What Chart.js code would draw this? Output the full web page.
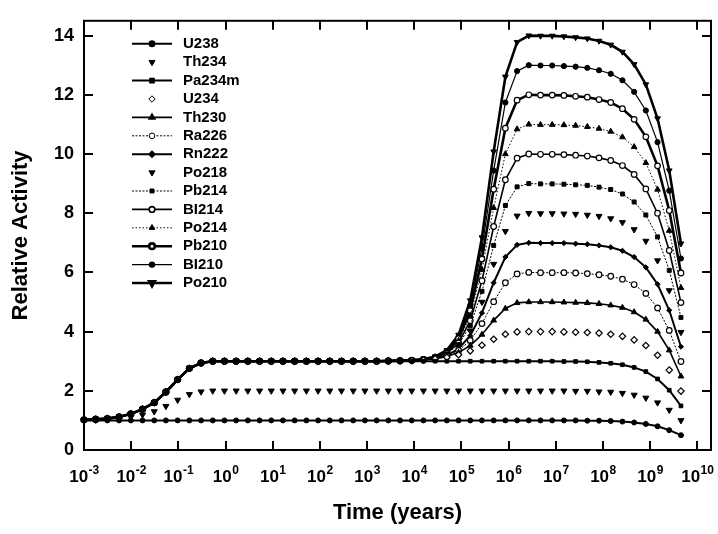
<html>

<head>
  <title>Relative Activity - U238 decay chain</title>
  <style>
    body { margin: 0; background: #fff; }
  </style>
  <script src="https://cdn.jsdelivr.net/npm/chart.js"></script>
</head>

<body>
  <canvas id="chart" width="718" height="534"></canvas>

  <script>
    // time grid (years), log spaced from 1e-3 to 4.5e9
    const times = [
      1.00e-3, 1.77e-3, 3.13e-3, 5.55e-3, 9.83e-3, 1.74e-2, 3.08e-2, 5.45e-2, 9.66e-2, 0.171,
      0.303, 0.536, 0.949, 1.68, 2.97, 5.27, 9.32, 16.5, 29.2, 51.8,
      91.6, 162, 287, 509, 900, 1594, 2822, 4996, 8847, 15664,
      27733, 49103, 86940, 1.539e5, 2.725e5, 4.825e5, 8.544e5, 1.513e6, 2.678e6, 4.742e6,
      8.395e6, 1.486e7, 2.632e7, 4.660e7, 8.252e7, 1.461e8, 2.587e8, 4.580e8, 8.109e8, 1.436e9,
      2.541e9, 4.5e9
    ];

    const xTicks = [1e-3, 1e-2, 1e-1, 1e0, 1e1, 1e2, 1e3, 1e4, 1e5, 1e6, 1e7, 1e8, 1e9, 1e10];
    const xTickExps = ['-3', '-2', '-1', '0', '1', '2', '3', '4', '5', '6', '7', '8', '9', '10'];
    const yTicks = [0, 2, 4, 6, 8, 10, 12, 14];

    const names = ['U238', 'Th234', 'Pa234m', 'U234', 'Th230', 'Ra226', 'Rn222', 'Po218', 'Pb214', 'BI214', 'Po214', 'Pb210', 'BI210', 'Po210'];

    // cumulative relative activity of each member
    const u238 = [
      1, 1, 1, 1, 1, 1, 1, 1, 1, 1, 1, 1, 1, 1, 1, 1, 1, 1, 1, 1, 1, 1, 1, 1, 1,
      1, 1, 1, 1, 1, 1, 1, 1, 1, 1, 1, 1, 1, 1,
      1.0, 1.0, 1.0, 1.0, 0.99, 0.99, 0.98, 0.96, 0.93, 0.88, 0.80, 0.67, 0.50
    ];
    const th234 = [
      1.01, 1.02, 1.03, 1.06, 1.11, 1.19, 1.3, 1.48, 1.69, 1.88, 1.97, 2, 2, 2, 2, 2, 2, 2, 2, 2, 2, 2, 2, 2, 2,
      2, 2, 2, 2, 2, 2, 2, 2, 2, 2, 2, 2, 2, 2,
      2.0, 2.0, 2.0, 1.99, 1.99, 1.97, 1.96, 1.92, 1.86, 1.76, 1.60, 1.35, 1.0
    ];
    const pa234m = [
      1.02, 1.04, 1.06, 1.12, 1.22, 1.38, 1.6, 1.96, 2.38, 2.76, 2.94, 3, 3, 3, 3, 3, 3, 3, 3, 3, 3, 3, 3, 3, 3,
      3, 3, 3, 3, 3, 3, 3, 3, 3, 3, 3, 3, 3, 3,
      3.0, 3.0, 2.99, 2.99, 2.98, 2.96, 2.93, 2.88, 2.79, 2.65, 2.40, 2.02, 1.49
    ];
    const u234 = [
      1.02, 1.04, 1.06, 1.12, 1.22, 1.38, 1.6, 1.96, 2.38, 2.76, 2.94, 3, 3, 3, 3, 3, 3, 3, 3, 3, 3, 3, 3, 3, 3,
      3.0, 3.01, 3.01, 3.02, 3.04, 3.08, 3.13, 3.22, 3.35, 3.54, 3.74, 3.91, 3.99, 4.0,
      4.0, 4.0, 3.99, 3.98, 3.97, 3.95, 3.91, 3.84, 3.72, 3.53, 3.20, 2.70, 1.99
    ];
    const th230 = [
      1.02, 1.04, 1.06, 1.12, 1.22, 1.38, 1.6, 1.96, 2.38, 2.76, 2.94, 3, 3, 3, 3, 3, 3, 3, 3, 3, 3, 3, 3, 3, 3,
      3.0, 3.01, 3.01, 3.03, 3.05, 3.08, 3.16, 3.29, 3.53, 3.9, 4.38, 4.78, 4.97, 5.0,
      5.0, 5.0, 4.99, 4.98, 4.97, 4.94, 4.89, 4.81, 4.66, 4.41, 4.00, 3.37, 2.49
    ];
    const ra226 = [
      1.02, 1.04, 1.06, 1.12, 1.22, 1.38, 1.6, 1.96, 2.38, 2.76, 2.94, 3, 3, 3, 3, 3, 3, 3, 3, 3, 3, 3, 3, 3, 3,
      3.0, 3.01, 3.01, 3.03, 3.05, 3.09, 3.18, 3.36, 3.7, 4.27, 5.01, 5.65, 5.95, 6.0,
      5.99, 5.99, 5.99, 5.98, 5.96, 5.92, 5.87, 5.77, 5.59, 5.29, 4.80, 4.04, 2.99
    ];
    const rn222 = [
      1.02, 1.04, 1.06, 1.12, 1.22, 1.38, 1.6, 1.96, 2.38, 2.76, 2.94, 3, 3, 3, 3, 3, 3, 3, 3, 3, 3, 3, 3, 3, 3,
      3.0, 3.01, 3.01, 3.03, 3.05, 3.1, 3.2, 3.42, 3.86, 4.63, 5.65, 6.52, 6.93, 7.0,
      6.99, 6.99, 6.99, 6.97, 6.95, 6.91, 6.85, 6.73, 6.52, 6.17, 5.60, 4.72, 3.49
    ];
    const po218 = [
      1.02, 1.04, 1.06, 1.12, 1.22, 1.38, 1.6, 1.96, 2.38, 2.76, 2.94, 3, 3, 3, 3, 3, 3, 3, 3, 3, 3, 3, 3, 3, 3,
      3.0, 3.01, 3.02, 3.03, 3.05, 3.11, 3.23, 3.49, 4.03, 5.0, 6.28, 7.39, 7.91, 8.0,
      7.99, 7.99, 7.98, 7.97, 7.94, 7.90, 7.82, 7.69, 7.45, 7.06, 6.40, 5.39, 3.98
    ];
    const pb214 = [
      1.02, 1.04, 1.06, 1.12, 1.22, 1.38, 1.6, 1.96, 2.38, 2.76, 2.94, 3, 3, 3, 3, 3, 3, 3, 3, 3, 3, 3, 3, 3, 3,
      3.0, 3.01, 3.02, 3.03, 3.06, 3.12, 3.25, 3.56, 4.2, 5.36, 6.91, 8.26, 8.89, 9.0,
      8.99, 8.99, 8.98, 8.96, 8.94, 8.88, 8.80, 8.65, 8.38, 7.94, 7.20, 6.07, 4.48
    ];
    const bi214 = [
      1.02, 1.04, 1.06, 1.12, 1.22, 1.38, 1.6, 1.96, 2.38, 2.76, 2.94, 3, 3, 3, 3, 3, 3, 3, 3, 3, 3, 3, 3, 3, 3,
      3.0, 3.01, 3.02, 3.03, 3.06, 3.12, 3.27, 3.62, 4.37, 5.72, 7.55, 9.13, 9.86, 10.0,
      9.99, 9.99, 9.98, 9.96, 9.93, 9.87, 9.78, 9.61, 9.31, 8.82, 8.00, 6.74, 4.98
    ];
    const po214 = [
      1.02, 1.04, 1.06, 1.12, 1.22, 1.38, 1.6, 1.96, 2.38, 2.76, 2.94, 3, 3, 3, 3, 3, 3, 3, 3, 3, 3, 3, 3, 3, 3,
      3.0, 3.01, 3.02, 3.03, 3.06, 3.13, 3.3, 3.69, 4.54, 6.09, 8.18, 10.0, 10.84, 11.0,
      10.99, 10.99, 10.98, 10.96, 10.92, 10.86, 10.76, 10.57, 10.24, 9.70, 8.80, 7.41, 5.48
    ];
    const pb210 = [
      1.02, 1.04, 1.06, 1.12, 1.22, 1.38, 1.6, 1.96, 2.38, 2.76, 2.94, 3, 3, 3, 3, 3, 3, 3, 3, 3, 3, 3, 3, 3, 3,
      3.0, 3.01, 3.02, 3.03, 3.06, 3.14, 3.32, 3.76, 4.71, 6.45, 8.81, 10.87, 11.82, 12.0,
      11.99, 11.99, 11.98, 11.95, 11.92, 11.84, 11.74, 11.53, 11.17, 10.58, 9.60, 8.09, 5.98
    ];
    const bi210 = [
      1.02, 1.04, 1.06, 1.12, 1.22, 1.38, 1.6, 1.96, 2.38, 2.76, 2.94, 3, 3, 3, 3, 3, 3, 3, 3, 3, 3, 3, 3, 3, 3,
      3.0, 3.01, 3.02, 3.03, 3.06, 3.15, 3.34, 3.83, 4.88, 6.82, 9.44, 11.74, 12.8, 13.0,
      12.99, 12.99, 12.97, 12.95, 12.91, 12.83, 12.71, 12.49, 12.10, 11.47, 10.40, 8.76, 6.47
    ];
    const po210 = [
      1.02, 1.04, 1.06, 1.12, 1.22, 1.38, 1.6, 1.96, 2.38, 2.76, 2.94, 3, 3, 3, 3, 3, 3, 3, 3, 3, 3, 3, 3, 3, 3,
      3.0, 3.01, 3.02, 3.03, 3.07, 3.15, 3.37, 3.89, 5.05, 7.18, 10.08, 12.61, 13.78, 14.0,
      13.99, 13.99, 13.97, 13.94, 13.90, 13.82, 13.69, 13.45, 13.03, 12.35, 11.20, 9.44, 6.97
    ];

    const series = [u238, th234, pa234m, u234, th230, ra226, rn222, po218, pb214, bi214, po214, pb210, bi210, po210];

    // line / marker style per member
    const looks = [
      { line: 2, dash: [], shape: 'circle', r: 2.5, open: false },
      { line: 0, dash: [], shape: 'triangle', rot: 180, r: 3.5, open: false },
      { line: 2, dash: [], shape: 'rect', r: 2.6, open: false },
      { line: 0, dash: [], shape: 'rectRot', r: 3.2, open: true },
      { line: 1.6, dash: [], shape: 'triangle', r: 3.3, open: false },
      { line: 1, dash: [2, 1.5], shape: 'circle', r: 2.8, open: true },
      { line: 2, dash: [], shape: 'rectRot', r: 2.6, open: false },
      { line: 0, dash: [], shape: 'triangle', rot: 180, r: 3.5, open: false },
      { line: 1, dash: [2, 1.5], shape: 'rect', r: 2.8, open: false },
      { line: 1.6, dash: [], shape: 'circle', r: 2.8, open: true },
      { line: 1, dash: [1.5, 2], shape: 'triangle', r: 3.3, open: false },
      { line: 2.6, dash: [], shape: 'circle', r: 2.8, open: true },
      { line: 1.2, dash: [], shape: 'circle', r: 2.6, open: false },
      { line: 2.6, dash: [], shape: 'triangle', rot: 180, r: 3.3, open: false },
    ];

    const datasets = series.map((vals, i) => {
      const lk = looks[i];
      return {
        label: names[i],
        data: times.map((t, j) => ({ x: t, y: vals[j] })),
        showLine: lk.line > 0,
        borderColor: '#000',
        borderWidth: lk.line,
        borderDash: lk.dash,
        pointStyle: lk.shape,
        pointRotation: lk.rot || 0,
        pointRadius: lk.r,
        pointBorderWidth: lk.open ? 1.2 : 1,
        pointBorderColor: '#000',
        pointBackgroundColor: lk.open ? '#fff' : '#000',
        tension: 0,
        clip: false,
      };
    });

    const font = 'Liberation Sans, Arial, Helvetica, sans-serif';

    // box with inward ticks on all four sides, plus the 10^n labels
    const framePlugin = {
      id: 'frame',
      afterDatasetsDraw(chart) {
        const { ctx, chartArea: a, scales: { x, y } } = chart;
        ctx.save();
        ctx.strokeStyle = '#000';
        ctx.lineWidth = 2;
        ctx.strokeRect(a.left, a.top, a.right - a.left, a.bottom - a.top);
        ctx.beginPath();
        xTicks.forEach(v => {
          const px = Math.round(x.getPixelForValue(v));
          ctx.moveTo(px, a.bottom); ctx.lineTo(px, a.bottom - 9);
          ctx.moveTo(px, a.top); ctx.lineTo(px, a.top + 9);
        });
        yTicks.forEach(v => {
          const py = Math.round(y.getPixelForValue(v));
          ctx.moveTo(a.left, py); ctx.lineTo(a.left + 9, py);
          ctx.moveTo(a.right, py); ctx.lineTo(a.right - 9, py);
        });
        ctx.stroke();

        // tick labels: "10" with a raised exponent
        ctx.fillStyle = '#000';
        ctx.textBaseline = 'alphabetic';
        ctx.textAlign = 'left';
        xTicks.forEach((v, i) => {
          const px = x.getPixelForValue(v);
          ctx.font = 'bold 17px ' + font;
          const wBase = ctx.measureText('10').width;
          ctx.font = 'bold 12px ' + font;
          const wExp = ctx.measureText(xTickExps[i]).width;
          const x0 = px - (wBase + wExp) / 2;
          ctx.font = 'bold 17px ' + font;
          ctx.fillText('10', x0, a.bottom + 32);
          ctx.font = 'bold 12px ' + font;
          ctx.fillText(xTickExps[i], x0 + wBase + 0.5, a.bottom + 24);
        });
        ctx.restore();
      }
    };

    // legend inside the plot, line sample with marker in the middle
    const legendPlugin = {
      id: 'seriesLegend',
      afterDatasetsDraw(chart) {
        const { ctx, chartArea: a } = chart;
        chart.data.datasets.forEach((ds, i) => {
          const yy = a.top + 23 + i * 18.4;
          const x0 = a.left + 48, x1 = a.left + 88, xm = (x0 + x1) / 2;
          ctx.save();
          if (ds.showLine) {
            ctx.strokeStyle = '#000';
            ctx.lineWidth = ds.borderWidth;
            ctx.setLineDash(ds.borderDash);
            ctx.beginPath();
            ctx.moveTo(x0, yy);
            ctx.lineTo(x1, yy);
            ctx.stroke();
          }
          ctx.setLineDash([]);
          ctx.fillStyle = ds.pointBackgroundColor;
          ctx.strokeStyle = '#000';
          Chart.helpers.drawPoint(ctx, {
            pointStyle: ds.pointStyle,
            rotation: ds.pointRotation,
            radius: ds.pointRadius,
            borderWidth: ds.pointBorderWidth,
          }, xm, yy);
          ctx.fillStyle = '#000';
          ctx.font = 'bold 15px ' + font;
          ctx.textBaseline = 'middle';
          ctx.textAlign = 'left';
          ctx.fillText(ds.label, a.left + 99, yy);
          ctx.restore();
        });
      }
    };

    window.chartObj = new Chart(document.querySelector('canvas#chart'), {
      type: 'line',
      data: { datasets },
      options: {
        responsive: false,
        animation: false,
        layout: { padding: { top: 15, right: 7, left: 0, bottom: 0 } },
        plugins: {
          legend: { display: false },
          tooltip: { enabled: false },
        },
        scales: {
          x: {
            type: 'logarithmic',
            min: 1e-3,
            max: 1.95e10,
            afterBuildTicks: s => { s.ticks = xTicks.map(v => ({ value: v })); },
            afterFit: s => { s.height = 84; },
            grid: { display: false, drawTicks: false },
            border: { display: false },
            ticks: { display: false },
            title: {
              display: true,
              text: 'Time (years)',
              color: '#000',
              font: { family: font, size: 22, weight: 'bold' },
              padding: { top: 0, bottom: 8 },
            },
          },
          y: {
            min: 0,
            max: 14.5,
            afterBuildTicks: s => { s.ticks = yTicks.map(v => ({ value: v })); },
            afterFit: s => { s.width = 84; },
            grid: { display: false, drawTicks: false },
            border: { display: false },
            ticks: {
              padding: 10,
              color: '#000',
              font: { family: font, size: 18, weight: 'bold' },
            },
            title: {
              display: true,
              text: 'Relative Activity',
              color: '#000',
              font: { family: font, size: 22, weight: 'bold' },
              padding: { top: 8, bottom: 0 },
            },
          },
        },
      },
      plugins: [framePlugin, legendPlugin],
    });
  </script>
</body>

</html>
